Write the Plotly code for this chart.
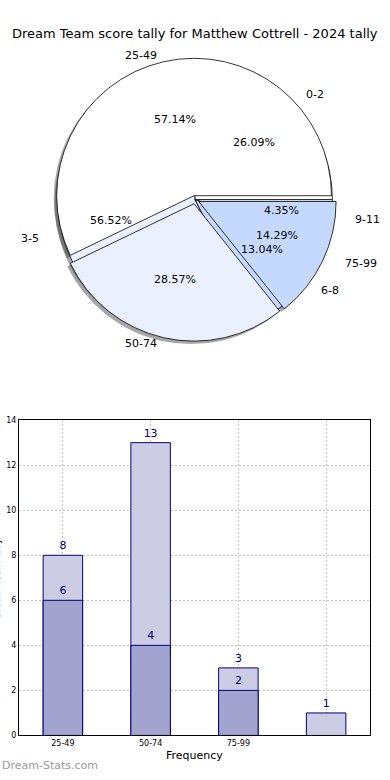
import math
import plotly.graph_objects as go

W, H = 390, 780

title_text = "Dream Team score tally for Matthew Cottrell - 2024 tally"

# Pie A (score bands)
pie_a_labels = ["25-49", "50-74", "75-99"]
pie_a_values = [8, 4, 2]
pie_a_colors = ["#ffffff", "#eaf0fd", "#c5d9fe"]

# Pie B
pie_b_labels = ["0-2", "3-5", "6-8", "9-11"]
pie_b_values = [6, 13, 3, 1]
pie_b_colors = ["#ffffff", "#eaf0fd", "#c5d9fe", "#ffffff"]

# Bar chart
bar_categories = ["25-49", "50-74", "75-99", ""]
bar_light = [8, 13, 3, 1]
bar_dark = [6, 4, 2]
y_ticks = [0, 2, 4, 6, 8, 10, 12, 14]

FONT = "DejaVu Sans"


def px(x):
    return x / W


def py(y):
    return 1 - y / H


# pie geometry (pixels)
CX, CY, R = 195, 198, 139
RX, RY = 145, 132   # text placement radii (reference pie is slightly elliptical)
PULL = 0.03


def dom(cx, cy, rbox):
    return dict(x=[px(cx - rbox), px(cx + rbox)], y=[py(cy + rbox), py(cy - rbox)])


def start_rot(values):
    # first slice begins at 3 o'clock and runs counter-clockwise (matplotlib style)
    return 90 - 360 * values[0] / sum(values)


fig = go.Figure()

# shadow
fig.add_trace(go.Pie(
    labels=pie_b_labels, values=pie_b_values, sort=False, direction="counterclockwise",
    rotation=start_rot(pie_b_values), domain=dom(CX - 3, CY + 3, R), textinfo="none",
    hoverinfo="skip",
    marker=dict(colors=["rgba(60,60,60,0.45)"] * len(pie_b_values), line=dict(width=0)),
    showlegend=False))
fig.add_trace(go.Pie(
    labels=pie_a_labels, values=pie_a_values, sort=False, direction="counterclockwise",
    rotation=start_rot(pie_a_values), domain=dom(CX - 3, CY + 3, R * (1 + PULL)),
    textinfo="none", hoverinfo="skip", pull=[PULL] * len(pie_a_values),
    marker=dict(colors=["rgba(60,60,60,0.45)"] * len(pie_a_values), line=dict(width=0)),
    showlegend=False))

# pie B (underneath)
fig.add_trace(go.Pie(
    labels=pie_b_labels, values=pie_b_values, sort=False, direction="counterclockwise",
    rotation=start_rot(pie_b_values), domain=dom(CX, CY, R), textinfo="none",
    marker=dict(colors=pie_b_colors, line=dict(color="black", width=0.8)),
    showlegend=False))

# pie A (exploded, on top)
fig.add_trace(go.Pie(
    labels=pie_a_labels, values=pie_a_values, sort=False, direction="counterclockwise",
    rotation=start_rot(pie_a_values), domain=dom(CX, CY, R * (1 + PULL)), textinfo="none",
    pull=[PULL] * len(pie_a_values),
    marker=dict(colors=pie_a_colors, line=dict(color="black", width=0.8)),
    showlegend=False))

annotations = []


def pie_texts(labels, values, pull):
    total = sum(values)
    cum = 0
    for lab, v in zip(labels, values):
        mid = math.radians(360 * (cum + v / 2) / total)
        cum += v
        c, s = math.cos(mid), math.sin(mid)
        ox, oy = CX + pull * RX * c, CY - pull * RY * s
        annotations.append(dict(
            x=px(ox + 0.6 * RX * c), y=py(oy - 0.6 * RY * s), xref="paper", yref="paper",
            text=f"{100 * v / total:.2f}%", showarrow=False, xanchor="center", yanchor="middle",
            font=dict(family=FONT, size=11, color="black")))
        annotations.append(dict(
            x=px(ox + 1.1 * RX * c), y=py(oy - 1.1 * RY * s), xref="paper", yref="paper",
            text=lab, showarrow=False, xanchor="left" if c > 0 else "right", yanchor="middle",
            font=dict(family=FONT, size=11, color="black")))


pie_texts(pie_a_labels, pie_a_values, PULL)
pie_texts(pie_b_labels, pie_b_values, 0)

# bars
xs = list(range(len(bar_categories)))
fig.add_trace(go.Bar(
    x=xs, y=bar_light, width=0.45, xaxis="x", yaxis="y",
    marker=dict(color="#ccccE4", line=dict(color="#000080", width=1)),
    text=[str(v) for v in bar_light], textposition="outside", cliponaxis=False,
    textfont=dict(family=FONT, size=11, color="#000080"), showlegend=False))
fig.add_trace(go.Bar(
    x=xs[:len(bar_dark)], y=bar_dark, width=0.45, xaxis="x", yaxis="y",
    marker=dict(color="#a3a3cf", line=dict(color="#000080", width=1)),
    text=[str(v) for v in bar_dark], textposition="outside", cliponaxis=False,
    textfont=dict(family=FONT, size=11, color="#000080"), showlegend=False))

annotations += [
    dict(x=0.5, y=py(30), xref="paper", yref="paper", text=title_text, showarrow=False,
         xanchor="center", yanchor="middle", font=dict(family=FONT, size=13, color="black")),
    dict(x=px(194), y=py(760), xref="paper", yref="paper", text="Frequency", showarrow=False,
         xanchor="center", yanchor="middle", font=dict(family=FONT, size=11, color="black")),
    dict(x=px(4), y=py(581), xref="paper", yref="paper", text="Dream Team Tally", showarrow=False,
         textangle=-90, xanchor="right", yanchor="middle",
         font=dict(family=FONT, size=9, color="black")),
    dict(x=0, y=py(770), xref="paper", yref="paper", text="Dream-Stats.com", showarrow=False,
         xanchor="left", yanchor="middle", font=dict(family=FONT, size=11, color="#9a9a9a")),
]

fig.update_layout(
    width=W, height=H, margin=dict(l=0, r=0, t=0, b=0),
    paper_bgcolor="white", plot_bgcolor="white", barmode="overlay", showlegend=False,
    annotations=annotations,
    xaxis=dict(domain=[px(19), px(370)], range=[-0.5, 3.5], tickvals=xs, ticktext=bar_categories,
               showline=True, linecolor="black", linewidth=1, mirror=True,
               showgrid=True, gridcolor="#c4c4c4", griddash="2px,2px", gridwidth=1,
               zeroline=False, layer="above traces", ticks="",
               tickfont=dict(family=FONT, size=8, color="black"), fixedrange=True),
    yaxis=dict(domain=[py(740), py(421)], range=[0, 14], tickvals=y_ticks,
               showline=True, linecolor="black", linewidth=1, mirror=True,
               showgrid=True, gridcolor="#c4c4c4", griddash="2px,2px", gridwidth=1,
               zeroline=False, layer="above traces", ticks="",
               tickfont=dict(family=FONT, size=8, color="black"), fixedrange=True),
)

fig.write_html("out.html", config={"displayModeBar": False},
               post_script="document.body.style.margin='0';")
